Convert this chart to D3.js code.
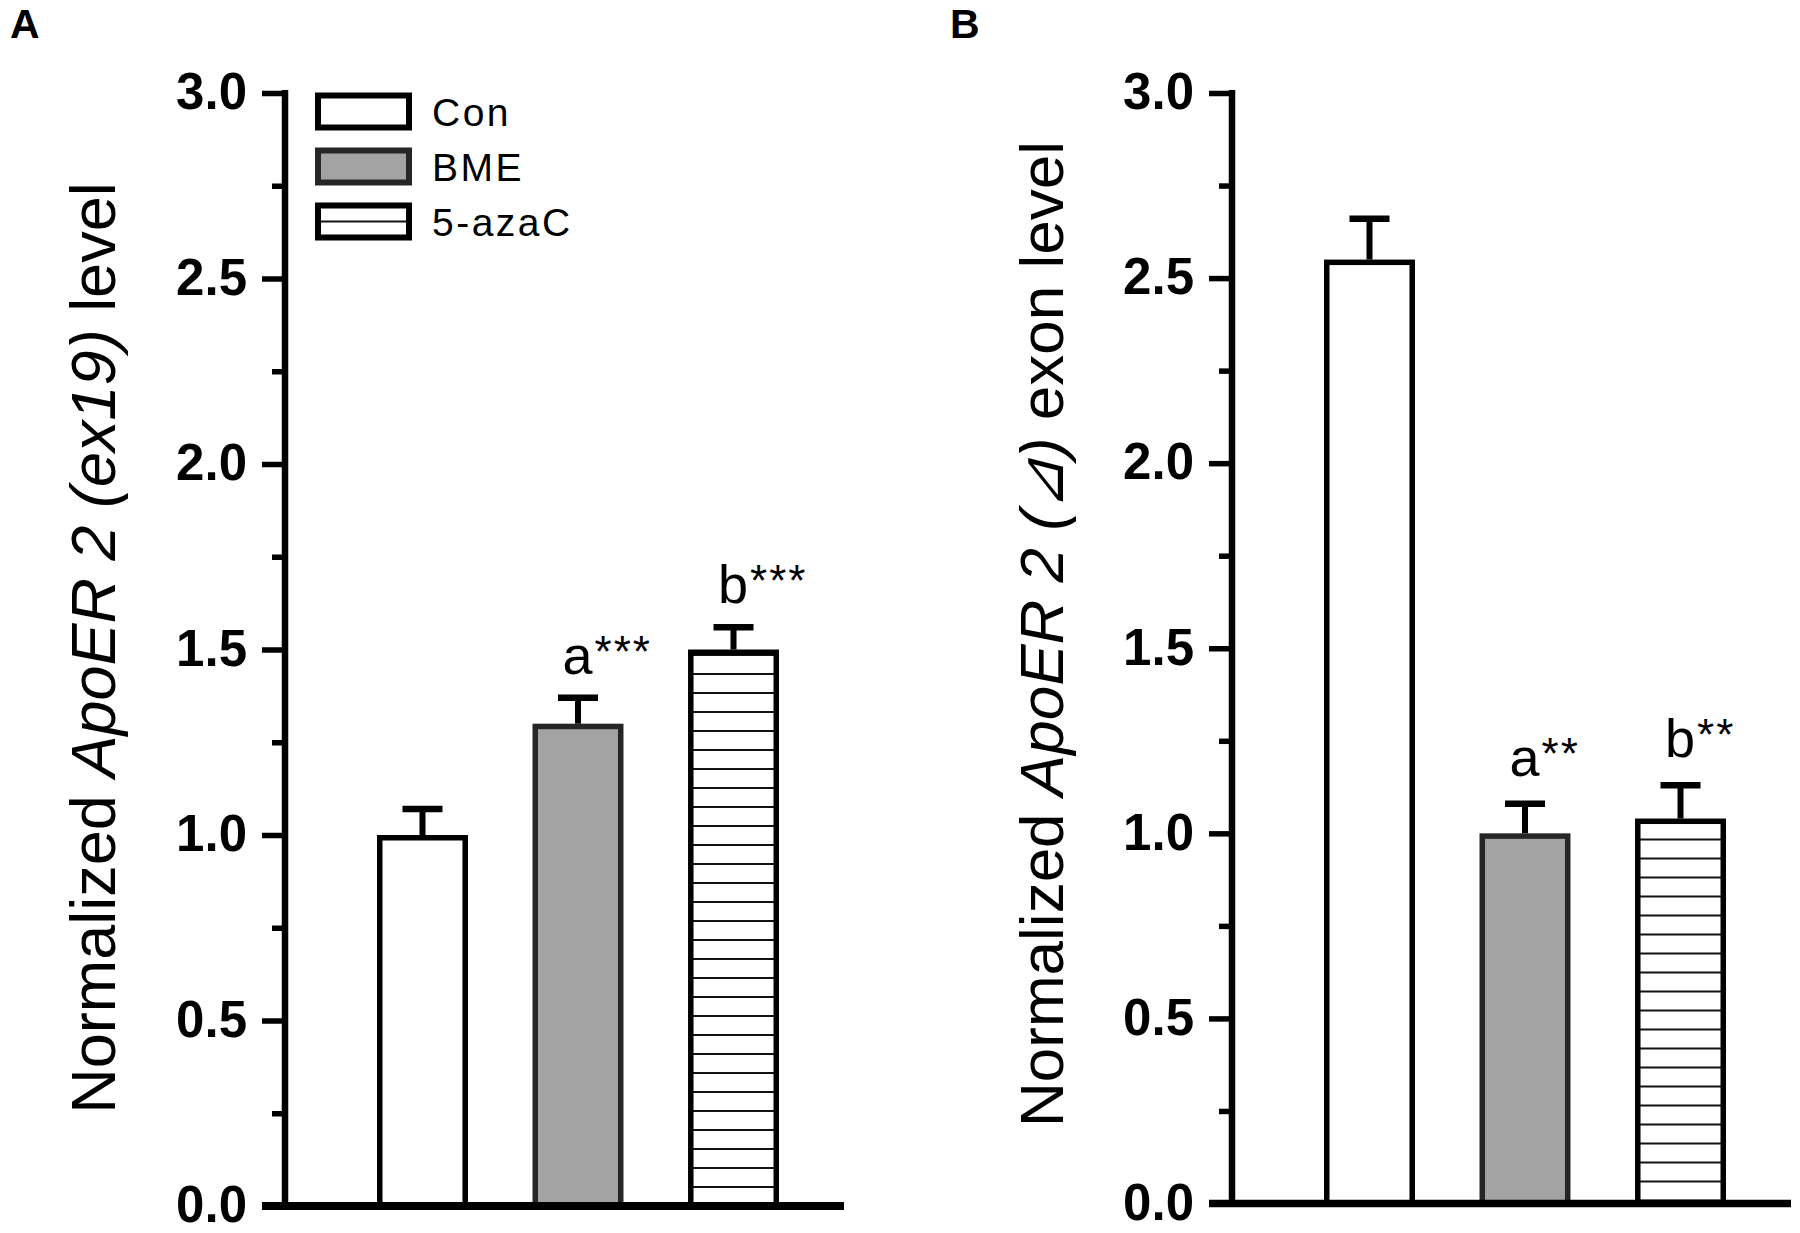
<!DOCTYPE html>
<html>
<head>
<meta charset="utf-8">
<script src="https://cdn.jsdelivr.net/npm/d3@7"></script>
<style>
  html, body { margin: 0; padding: 0; background: #fff; }
  svg { display: block; }
  text { font-family: "Liberation Sans", Arial, Helvetica, sans-serif; fill: #000; }
</style>
</head>
<body>
<svg id="chart" width="1800" height="1233"></svg>
<script>
// ---------------- data ----------------
const categories = ["Con", "BME", "5-azaC"];
const meansA = [1.00, 1.30, 1.50];
const semA   = [0.07, 0.07, 0.06];
const lettersA = ["", "a", "b"];
const starsA   = ["", "***", "***"];

const meansB = [2.55, 1.00, 1.04];
const semB   = [0.11, 0.08, 0.09];
const lettersB = ["", "a", "b"];
const starsB   = ["", "**", "**"];

const majorTicks = [0, 0.5, 1.0, 1.5, 2.0, 2.5, 3.0];
const minorTicks = [0.25, 0.75, 1.25, 1.75, 2.25, 2.75];
const yDomain = [0, 3];

const panelLabels = ["A", "B"];
const titleA = [{t: "Normalized ", i: false}, {t: "ApoER 2 (ex19)", i: true}, {t: " level", i: false}];
const titleB = [{t: "Normalized ", i: false}, {t: "ApoER 2 (\u22BF)", i: true}, {t: " exon level", i: false}];

// ---------------- drawing ----------------
const svg = d3.select("#chart");
const fills = {"Con": "#ffffff", "BME": "#a3a3a3"};
const strokes = {"Con": "#000", "BME": "#262626", "5-azaC": "#000"};

const defs = svg.append("defs");
function hatch(id, originY) {
  const p = defs.append("pattern").attr("id", id)
    .attr("patternUnits", "userSpaceOnUse")
    .attr("x", 0).attr("y", originY).attr("width", 200).attr("height", 19);
  p.append("rect").attr("width", 200).attr("height", 19).attr("fill", "#fff");
  p.append("line").attr("x1", 0).attr("x2", 200).attr("y1", 1).attr("y2", 1)
    .attr("stroke", "#111").attr("stroke-width", 2);
}
hatch("hatchA", 1206 - 19 - 1);
hatch("hatchB", 1203.5 - 22 - 1);
hatch("hatchLeg", 221.5 - 1);

function panel(cfg) {
  const g = svg.append("g");
  const y = d3.scaleLinear().domain(yDomain).range([cfg.baseY, cfg.topY]);
  const x = d3.scaleBand().domain(categories)
    .range([cfg.axisX + 92, cfg.axisX + 494]).paddingInner(0.415).paddingOuter(0);
  const bw = x.bandwidth();
  const data = categories.map((c, i) => ({c, m: cfg.means[i], s: cfg.sem[i], l: cfg.letters[i], st: cfg.stars[i]}));

  // bars
  const sw = 5.5;
  g.selectAll("rect.bar").data(data).enter().append("rect")
    .attr("class", "bar")
    .attr("x", d => x(d.c) + sw / 2)
    .attr("width", bw - sw)
    .attr("y", d => y(d.m) + sw / 2)
    .attr("height", d => y(0) - y(d.m) - sw / 2)
    .attr("fill", d => d.c === "5-azaC" ? `url(#${cfg.hatch})` : fills[d.c])
    .attr("stroke", d => strokes[d.c])
    .attr("stroke-width", sw);

  // error bars
  g.selectAll("line.stem").data(data).enter().append("line")
    .attr("x1", d => x(d.c) + bw / 2).attr("x2", d => x(d.c) + bw / 2)
    .attr("y1", d => y(d.m)).attr("y2", d => y(d.m + d.s))
    .attr("stroke", "#000").attr("stroke-width", 6);
  g.selectAll("line.cap").data(data).enter().append("line")
    .attr("x1", d => x(d.c) + bw / 2 - 20).attr("x2", d => x(d.c) + bw / 2 + 20)
    .attr("y1", d => y(d.m + d.s)).attr("y2", d => y(d.m + d.s))
    .attr("stroke", "#000").attr("stroke-width", 6.5);

  // annotations
  const ann = g.selectAll("text.ann").data(data.filter(d => d.l)).enter().append("text")
    .attr("x", d => x(d.c) + 30)
    .attr("y", d => y(d.m + d.s) - cfg.annGap)
    .attr("font-size", 54);
  ann.append("tspan").text(d => d.l);
  ann.append("tspan").attr("font-size", 44).attr("dy", -7).attr("dx", 2)
    .attr("letter-spacing", 2).text(d => d.st);

  // y axis: minor ticks
  const minor = d3.axisLeft(y).tickValues(minorTicks).tickSize(13).tickSizeOuter(0).tickFormat("");
  const gMinor = g.append("g").attr("transform", `translate(${cfg.axisX},0)`).call(minor);
  gMinor.select(".domain").remove();
  gMinor.selectAll(".tick line").attr("stroke", "#000").attr("stroke-width", 5.5);

  // y axis: major ticks + labels
  const major = d3.axisLeft(y).tickValues(majorTicks).tickSize(23).tickSizeOuter(0)
    .tickPadding(15).tickFormat(d3.format(".1f"));
  const gMajor = g.append("g").attr("transform", `translate(${cfg.axisX},0)`).call(major);
  gMajor.select(".domain").attr("stroke", "#000").attr("stroke-width", 6.5)
    .attr("d", `M0,${y(3) - 3}V${y(0)}`);
  gMajor.selectAll(".tick line").attr("stroke", "#000").attr("stroke-width", 5.5);
  gMajor.selectAll(".tick text")
    .attr("font-family", "'Liberation Sans', Arial, sans-serif")
    .attr("font-weight", "bold").attr("font-size", 51)
    .attr("dy", "0.31em").attr("fill", "#000");

  // x axis baseline
  g.append("line")
    .attr("x1", cfg.axisX - 23).attr("x2", cfg.axisX + 559)
    .attr("y1", y(0)).attr("y2", y(0))
    .attr("stroke", "#000").attr("stroke-width", cfg.xw);

  // y title
  const t = g.append("text")
    .attr("transform", `translate(${cfg.titleX},${cfg.titleY}) rotate(-90)`)
    .attr("text-anchor", "middle").attr("font-size", cfg.titleSize);
  t.selectAll("tspan").data(cfg.title).enter().append("tspan")
    .attr("font-style", d => d.i ? "italic" : "normal")
    .text(d => d.t);

  // panel label
  svg.append("text").attr("x", cfg.labelX).attr("y", 38)
    .attr("font-size", 41).attr("font-weight", "bold").text(cfg.label);
}

panel({axisX: 285, baseY: 1206, topY: 93, means: meansA, sem: semA, letters: lettersA, stars: starsA,
  hatch: "hatchA", annGap: 24, xw: 8, titleX: 115, titleY: 648, titleSize: 63, title: titleA,
  label: panelLabels[0], labelX: 10});
panel({axisX: 1232, baseY: 1203.5, topY: 93, means: meansB, sem: semB, letters: lettersB, stars: starsB,
  hatch: "hatchB", annGap: 28, xw: 7.5, titleX: 1063, titleY: 634, titleSize: 62, title: titleB,
  label: panelLabels[1], labelX: 950});

// legend (panel A)
const legY = d3.scalePoint().domain(categories).range([111.5, 221.5]);
const leg = svg.append("g");
leg.selectAll("rect").data(categories).enter().append("rect")
  .attr("x", 318).attr("width", 91)
  .attr("y", d => legY(d) - 16).attr("height", 32)
  .attr("fill", d => d === "5-azaC" ? "url(#hatchLeg)" : fills[d])
  .attr("stroke", d => strokes[d]).attr("stroke-width", 6);
leg.selectAll("text").data(categories).enter().append("text")
  .attr("x", 432).attr("y", d => legY(d) + 14)
  .attr("font-size", 39).attr("letter-spacing", 2.5)
  .text(d => d);
</script>
</body>
</html>
